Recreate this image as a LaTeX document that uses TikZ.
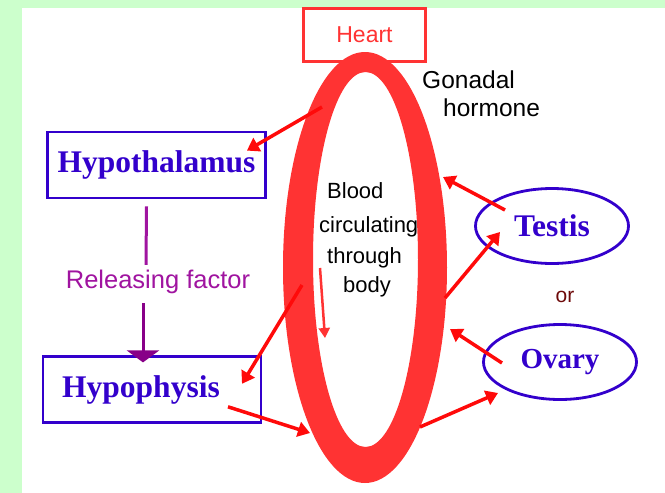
\documentclass[tikz,border=0pt]{standalone}
\usepackage{fontspec}
\setmainfont{Liberation Serif}
\setsansfont{Liberation Sans}
\usetikzlibrary{positioning,arrows.meta,calc,shapes.geometric}
\definecolor{PageGreen}{RGB}{204,255,204}
\definecolor{GlandBlue}{RGB}{51,0,204}
\definecolor{BloodRed}{RGB}{255,51,51}
\definecolor{FlowRed}{RGB}{255,10,10}
\definecolor{FactorPurple}{RGB}{160,20,160}
\definecolor{FactorDark}{RGB}{136,0,136}
\definecolor{OrBrown}{RGB}{110,10,10}
\tikzset{
  flow/.style={-{Triangle[length=12pt,width=15pt]},line width=3.5pt,draw=FlowRed},
  thinflow/.style={-{Triangle[length=10pt,width=11pt]},line width=2.5pt,draw=BloodRed},
  factor/.style={line width=3pt,draw=FactorPurple},
  gland/.style={draw=GlandBlue,line width=2.8pt,fill=white,text=GlandBlue,
    font=\fontsize{31.5}{31.5}\selectfont\bfseries,minimum width=218pt,minimum height=66pt,inner sep=0pt},
  gonad/.style={gland,ellipse,minimum width=153pt,minimum height=75pt},
  note/.style={font=\sffamily\fontsize{22}{22}\selectfont,inner sep=0pt}
}
\begin{document}
\begin{tikzpicture}[x=1pt,y=-1pt]
  \fill[PageGreen] (0,0) rectangle (665,493);
  \fill[white] (22,8) rectangle (665,493);
  \useasboundingbox (0,0) rectangle (665,493);

  % heart and the blood ring
  \node[draw=BloodRed,line width=2.5pt,fill=white,minimum width=122pt,minimum height=53pt,
    text=BloodRed,font=\sffamily\fontsize{23}{23}\selectfont] (heart) at (364.5,35) {Heart};
  \fill[BloodRed,even odd rule] (365,267.5) ellipse [x radius=82,y radius=215.5]
    (365.5,259.5) ellipse [x radius=52.5,y radius=187.5];

  \coordinate (ringNW) at (322,107);
  \coordinate (ringNE) at (443,177);
  \coordinate (ringE) at (445,298);
  \coordinate (ringSE) at (450,329);
  \coordinate (ringSSE) at (420,427);
  \coordinate (ringW) at (302,285);
  \coordinate (ringSW) at (310,433);
  \coordinate (innerTop) at (320,268);
  \coordinate (innerTip) at (325,338);

  % glands
  \node[gland] (hypothal) at (156.5,165) {Hypothalamus};
  \node[gland,below=156pt of hypothal,xshift=-4.5pt] (hypophys) {Hypophysis\hspace*{22pt}};
  \node[gonad] (testis) at (552,226) {Testis};
  \node[gonad,font=\fontsize{29}{29}\selectfont\bfseries] (ovary) at (560,362) {Ovary};

  % texts
  \node[note,text=FactorPurple,font=\sffamily\fontsize{25.5}{25.5}\selectfont] (relfactor) at (158,282) {Releasing factor};
  \node[note,anchor=west,font=\sffamily\fontsize{24.5}{24.5}\selectfont] (gonadal) at (422,80) {Gonadal};
  \node[note,anchor=west,font=\sffamily\fontsize{24.5}{24.5}\selectfont] (hormone) at (443,108) {hormone};
  \node[note,anchor=west] (blood) at (327,191) {Blood};
  \node[note,anchor=west] (circ) at (319,227) {circulating};
  \node[note,anchor=west] (through) at (327,258) {through};
  \node[note,anchor=west] (body) at (343,287) {body};
  \node[note,text=OrBrown,font=\sffamily\fontsize{21}{21}\selectfont] (or) at (565,297) {or};

  % releasing factor
  \draw[factor] ($(hypothal.south)+(-10,7)$) -- ($(relfactor.north)+(-12,-5)$);
  \draw[factor,-{Triangle[length=12pt,width=32pt]},color=FactorDark] ($(relfactor.south)+(-15,9)$) -- ($(hypophys.north)+(-9,7)$);

  % hormone flows
  \draw[flow] (ringNW) -- ($(hypothal.north east)+(-20,20)$);
  \draw[flow] ($(testis.center)+(-47,-16)$) -- (ringNE);
  \draw[flow] (ringE) -- ($(testis.center)+(-52,6)$);
  \draw[flow] ($(ovary.center)+(-58,1)$) -- (ringSE);
  \draw[flow] (ringSSE) -- ($(ovary.center)+(-62,31)$);
  \draw[flow] (ringW) -- ($(hypophys.center)+(90,-6)$);
  \draw[flow] ($(hypophys.center)+(76,17)$) -- (ringSW);
  \draw[thinflow] (innerTop) -- (innerTip);
\end{tikzpicture}
\end{document}
